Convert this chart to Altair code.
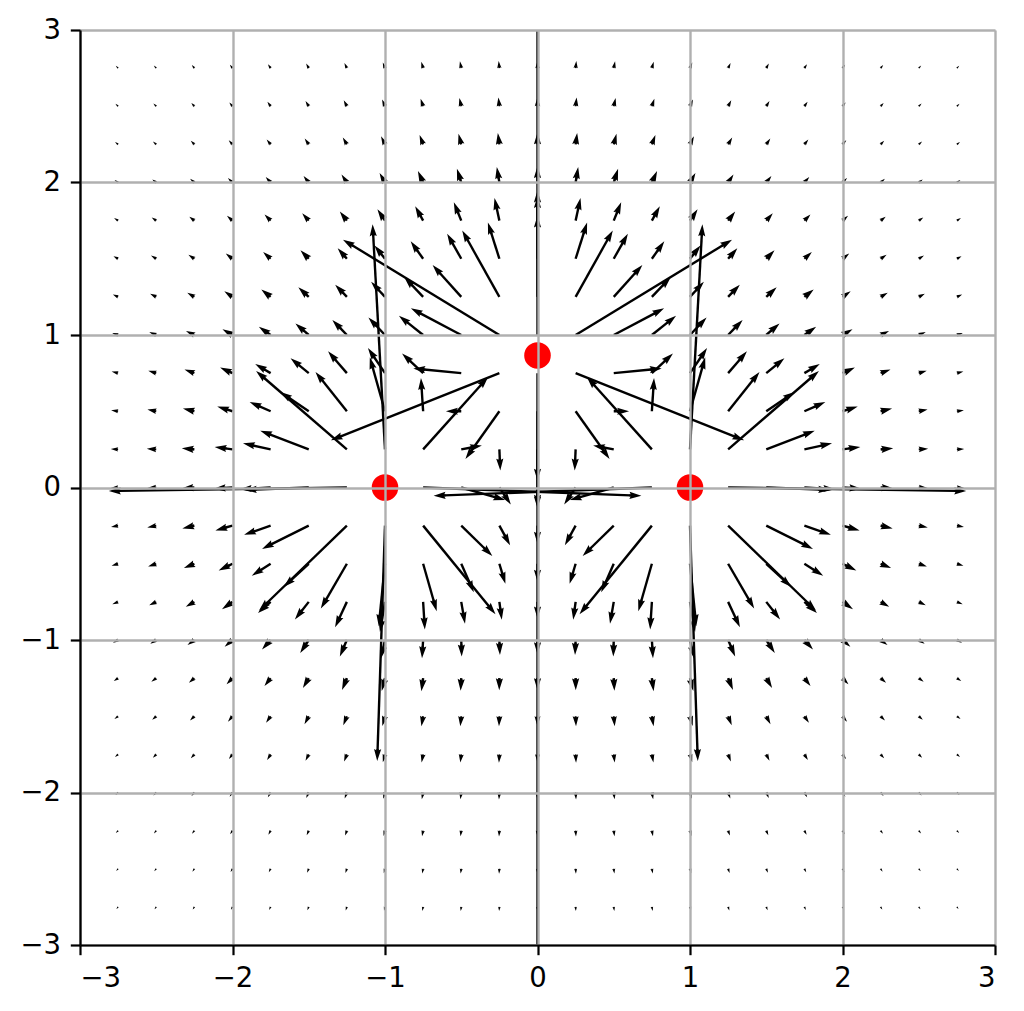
import numpy as np
import pandas as pd
import altair as alt

# grid of sample points (-2.75 ... 2.75 step 0.25)
grid_x = [-2.75, -2.5, -2.25, -2.0, -1.75, -1.5, -1.25, -1.0, -0.75, -0.5, -0.25, 0.0,
          0.25, 0.5, 0.75, 1.0, 1.25, 1.5, 1.75, 2.0, 2.25, 2.5, 2.75]
grid_y = [-2.75, -2.5, -2.25, -2.0, -1.75, -1.5, -1.25, -1.0, -0.75, -0.5, -0.25, 0.0,
          0.25, 0.5, 0.75, 1.0, 1.25, 1.5, 1.75, 2.0, 2.25, 2.5, 2.75]
# point charges (red dots)
charge_x = [-1.0, 1.0, 0.0]
charge_y = [0.0, 0.0, 0.866]
charge_q = [1.0, 1.0, 1.0]
axis_ticks = [-3, -2, -1, 0, 1, 2, 3]

# ---- field at the grid points (quiver data) ----
X, Y = np.meshgrid(np.array(grid_x), np.array(grid_y))
Ex = np.zeros_like(X)
Ey = np.zeros_like(X)
with np.errstate(divide="ignore", invalid="ignore"):
    for cx, cy, q in zip(charge_x, charge_y, charge_q):
        dx = X - cx
        dy = Y - cy
        r3 = (dx ** 2 + dy ** 2) ** 1.5
        Ex += q * dx / r3
        Ey += q * dy / r3
mag = np.hypot(Ex, Ey)
valid = np.isfinite(mag)

# matplotlib-like quiver autoscaling (calibrated against the picture)
N = X.size
span = 6.0                      # axis width in data units
PX = 915.0 / span               # pixels per data unit
amean = mag[valid].mean()
sn = max(10.0, np.sqrt(N))
length = 1.065 * mag * span / (1.8 * sn * amean)
shaft_w = 0.06 * span / np.clip(np.sqrt(N), 8, 25)
head_len = 5 * shaft_w
head_axis = 4.5 * shaft_w

xs, ys, ex, ey = X[valid], Y[valid], Ex[valid], Ey[valid]
L = length[valid]
m = mag[valid]
ux, uy = ex / m, ey / m
tipx, tipy = xs + ux * L, ys + uy * L
angle = (np.degrees(np.arctan2(ux, uy)) + 360) % 360
r_px = np.where(L >= head_len, head_len, L) * PX
size = (2 * r_px) ** 2

heads = pd.DataFrame({"x": tipx, "y": tipy, "angle": angle, "size": size})
long_mask = L >= head_len
shafts = pd.DataFrame({
    "x": xs[long_mask], "y": ys[long_mask],
    "x2": (xs + ux * (L - head_axis))[long_mask],
    "y2": (ys + uy * (L - head_axis))[long_mask],
})
charges = pd.DataFrame({"x": charge_x, "y": charge_y})

FONT = "DejaVu Sans"
LW = 2.2

def ax():
    return alt.Axis(values=axis_ticks, grid=True, gridColor="#b0b0b0", gridWidth=2.4,
                    domainColor="black", domainWidth=LW, tickColor="black", tickWidth=LW,
                    tickSize=9.7, labelPadding=9.7, labelFont=FONT, labelFontSize=27.5,
                    labelColor="black", title=None, zindex=1, format="d")

xsc = alt.Scale(domain=[-3, 3], nice=False, zero=False)
ysc = alt.Scale(domain=[-3, 3], nice=False, zero=False)

shaft_layer = alt.Chart(shafts).mark_rule(
    clip=True, color="black", strokeWidth=shaft_w * PX, strokeCap="butt"
).encode(
    x=alt.X("x:Q", scale=xsc, axis=ax()),
    y=alt.Y("y:Q", scale=ysc, axis=ax()),
    x2="x2:Q", y2="y2:Q",
)

head_path = "M0,0L0.3,1L0.1,0.9L0.1,1L-0.1,1L-0.1,0.9L-0.3,1Z"
head_layer = alt.Chart(heads).mark_point(
    clip=True, shape=head_path, filled=True, color="black", opacity=1, strokeWidth=0
).encode(
    x=alt.X("x:Q", scale=xsc),
    y=alt.Y("y:Q", scale=ysc),
    angle=alt.Angle("angle:Q", scale=None),
    size=alt.Size("size:Q", scale=None),
)

charge_layer = alt.Chart(charges).mark_circle(
    color="red", opacity=1, size=707
).encode(
    x=alt.X("x:Q", scale=xsc),
    y=alt.Y("y:Q", scale=ysc),
)

chart = alt.layer(shaft_layer, head_layer, charge_layer).properties(
    width=915, height=915,
    autosize=alt.AutoSizeParams(type="none"),
    padding={"left": 72, "top": 22, "right": 21, "bottom": 58},
).configure_view(stroke="black", strokeWidth=LW).configure(background="white")

chart.save("out.html", embed_options={"renderer": "svg", "actions": False})
